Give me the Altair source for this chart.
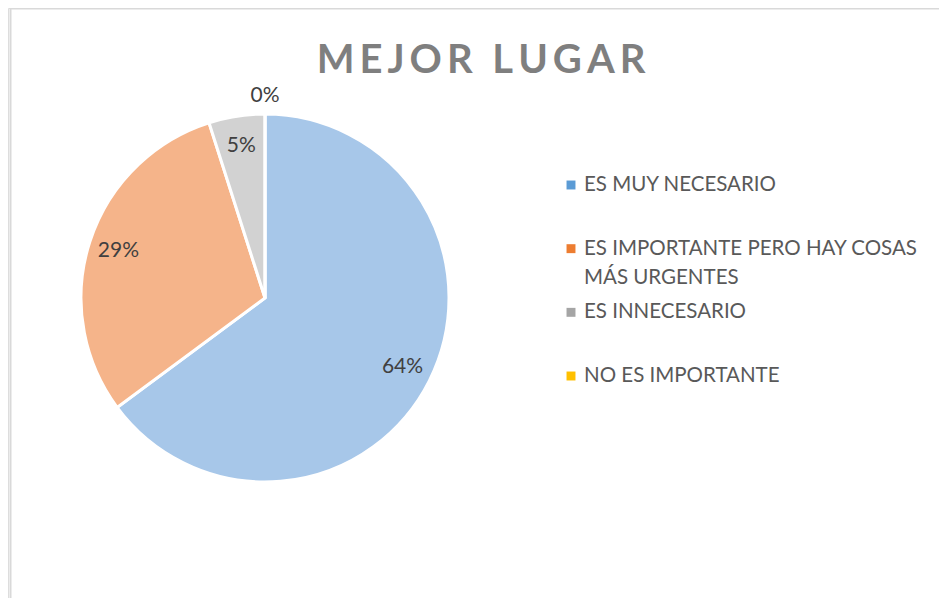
import altair as alt
import pandas as pd

categories = ["ES MUY NECESARIO", "ES IMPORTANTE PERO HAY COSAS\nMÁS URGENTES", "ES INNECESARIO", "\u2002NO ES IMPORTANTE"]
values = [64.6, 30.1, 4.9, 0.0]
pct_labels = ["64%", "29%", "5%", "0%"]
fill_colors = ["#a7c7e9", "#f5b48a", "#d2d2d2", "#ffc000"]
legend_colors = ["#5b9bd5", "#ed7d31", "#a5a5a5", "#ffc000"]
title_text = "MEJOR LUGAR"

df = pd.DataFrame({
    "cat": categories,
    "value": values,
    "pct": pct_labels,
    "idx": list(range(len(categories))),
})

CX, CY, R = 257, 290, 184

base = alt.Chart(df)

pie = base.mark_arc(outerRadius=R, stroke="white", strokeWidth=3).encode(
    theta=alt.Theta("value:Q", stack=True),
    color=alt.Color("cat:N", scale=alt.Scale(domain=categories, range=fill_colors), legend=None),
    order=alt.Order("idx:Q"),
    x=alt.value(CX), y=alt.value(CY),
)

lbl = base.transform_window(
    cum="sum(value)", sort=[alt.SortField("idx")], frame=[None, 0]
).transform_joinaggregate(total="sum(value)").transform_calculate(
    mid="(datum.cum - datum.value/2) / datum.total * 2 * PI",
    rr="datum.value > 0 ? 154 : 202",
).transform_calculate(
    px=f"{CX} + datum.rr * sin(datum.mid)",
    py=f"{CY} - datum.rr * cos(datum.mid)",
).mark_text(fontSize=21, font="Lato", color="#404040").encode(
    x=alt.X("px:Q", scale=None, axis=None),
    y=alt.Y("py:Q", scale=None, axis=None),
    text="pct:N",
)

ypos = alt.Y("idx:Q", scale=alt.Scale(domain=[0, 3], range=[177, 368]), axis=None)

leg_sym = base.mark_square(size=80, opacity=1).encode(
    x=alt.value(563),
    y=ypos,
    color=alt.Color("cat:N", scale=alt.Scale(domain=categories, range=legend_colors), legend=None),
)

leg_txt = base.mark_text(
    align="left", baseline="middle", fontSize=20.5, font="Lato", color="#595959", lineBreak="\n", lineHeight=29
).encode(
    x=alt.value(576),
    y=ypos,
    text="cat:N",
)

spaced_title = "\u2009".join(list(title_text))

title = alt.Chart(pd.DataFrame({"t": [spaced_title]})).mark_text(
    fontSize=40, font="Lato", fontWeight="bold", color="#7f7f7f", baseline="alphabetic", align="center"
).encode(
    x=alt.value(473), y=alt.value(65),
    text=alt.Text("t:N"),
)

border_top = alt.Chart(pd.DataFrame({"a": [0]})).mark_rule(color="#d9d9d9", strokeWidth=2).encode(
    x=alt.value(2), x2=alt.value(939), y=alt.value(0.5)
)
border_left = alt.Chart(pd.DataFrame({"a": [0]})).mark_rule(color="#d9d9d9", strokeWidth=2).encode(
    x=alt.value(2.5), y=alt.value(0), y2=alt.value(598)
)

chart = alt.layer(
    border_top, border_left, pie, lbl, leg_sym, leg_txt, title
).resolve_scale(color="independent", y="independent").properties(
    width=931, height=590, padding=0, autosize=alt.AutoSizeParams(type="none")
).configure_view(stroke=None).configure(background="white")

chart.save("out.html", embed_options={"renderer": "svg", "actions": False})
